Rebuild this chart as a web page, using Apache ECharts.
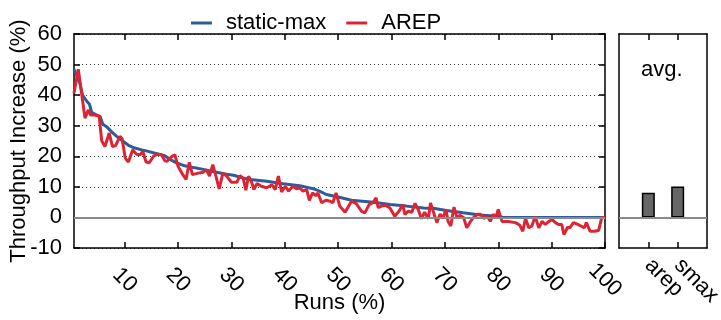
<!DOCTYPE html>
<html><head><meta charset="utf-8">
<script src="https://cdn.jsdelivr.net/npm/echarts@6/dist/echarts.min.js"></script>
<style>html,body{margin:0;padding:0;background:#fff}#c{width:721px;height:320px}</style>
</head><body><div id="c"></div>
<script>
// static-max curve: [runs %, throughput increase %]
const staticMaxRuns = [0.5,1.6,2.1,2.9,3.4,3.8,4.75,5.4,5.9,6.6,7.6,8.5,9.7,10.7,11.9,13.2,14.4,15.7,16.6,17.5,18.5,19.7,21,22.9,24.5,26,29.1,30.4,32.2,33.5,36.6,39.7,42.8,45.3,46.5,47.8,50,52.5,56.6,59.7,62.8,66,68.1,70.3,73.4,76.6,79.7,81,100];
const staticMaxVals = [48.5,43.9,40,38,37,34.4,33.5,33,30.5,29.7,27.9,26.5,24.9,23.6,22.7,22.1,21.6,21,20.6,20.2,19,17.8,17,16.3,15.8,15.2,14.1,13.8,12.9,12.4,11.8,11,10.4,9.4,8.6,7.5,6.7,5.6,5,4.2,3.7,3.1,2.9,2.3,1.5,0.8,0.4,0,0];
// AREP curve
const arepRuns = [0.5,1.3,2.56,3.2,3.6,4.4,5.2,5.7,6.3,7.1,7.7,8.3,9.1,9.5,10.1,10.7,11.5,12.2,12.9,13.4,14,14.6,15.4,16.1,16.9,17.5,17.9,18.8,19.4,20,20.7,21.5,22.1,22.7,23.8,24.7,25.3,25.9,26.5,27.1,27.7,28.4,29.1,30,31,31.6,32.2,32.7,33.2,33.8,34.2,34.8,35.6,36.6,37.6,38.2,38.8,39.4,40.1,40.7,41.5,42.2,42.8,43.4,44.1,44.6,45.2,45.8,46.2,46.9,47.7,48.5,49,49.6,50.3,51.3,52.5,53.4,54.4,55,55.8,56.6,57.1,57.5,58.1,58.9,59.7,60.6,61.4,62.1,62.5,63.1,63.8,64.4,65,65.6,66.2,66.9,67.3,68.5,69.1,69.6,70.2,70.6,71.1,71.7,72.3,72.8,73.5,74.1,74.8,75.4,76.1,76.7,77.3,78,78.5,79.1,79.5,80,80.7,81.9,83.2,84,84.6,85.1,85.7,86.3,86.9,87.6,88.2,88.8,89.5,90.1,90.7,91.3,91.9,92.3,93,93.4,94.1,94.9,95.5,96.1,96.5,97.2,98,98.8,99.4,100];
const arepVals = [40.6,48.5,32.5,35.2,33.5,33.5,33.2,25,23.2,27.6,23.2,23.5,26.5,25.8,19.4,18.1,22.1,20.7,20.5,21.6,18.1,17.9,20,20.7,20.5,18.6,18.3,19.9,20.5,16.7,14.5,12.4,18,14,14.5,14.8,15.6,13.5,17.3,13.5,9.3,14.5,13.5,11.5,11.5,13.7,12.8,8.9,13.5,11.5,9.1,11.1,10.2,9.7,10.7,9.1,13.5,8.3,10.2,8.6,10.2,9.4,9.7,8.6,9.1,5.6,8,7.1,8,4.8,5.6,5.3,4.8,8,3.7,1.7,5.3,4.5,2,1.5,4.2,5,6.4,3.2,3.7,4,3.1,0.4,2,4.2,1,2,1.7,4.6,2.6,-0.4,1.7,-0.4,4.7,-1.7,1.1,-0.3,2.6,-1.3,-2.8,3.4,-0.3,0.7,0,-3.4,-1.3,0,1,1,-0.3,0.3,-1.3,1.1,-0.3,2.6,-1.3,-1.3,-1.7,-2.5,-4.5,-0.3,-3.4,-2.8,0.3,-3.4,-1.3,-2.3,-1.3,-0.7,-1.7,-2.3,-2.3,-5.6,-3.2,-3.4,-1.7,-2.3,-2.8,-3.4,-1.7,-4.5,-4.5,-4.3,0,0];
const xTicks = [10,20,30,40,50,60,70,80,90,100];
const yTicks = [-10,0,10,20,30,40,50,60];
const avgLabels = ['arep','smax'];
const avgValues = [8.1,10.1];

const FONT = 'Liberation Sans';
const FS = 22;
const BLUE = '#2c5d98', RED = '#dc2434';
const pairs = (xs, ys) => xs.map((x, i) => [x, ys[i]]);
// right panel: empty slots at both edges so the two bars sit at 1/3 and 2/3
const avgCats = [''].concat(avgLabels, ['']);
const avgData = [null].concat(avgValues, [null]);

const chart = echarts.init(document.getElementById('c'), null, {renderer: 'canvas'});
const tickStyle = {show: true, inside: true, length: 6, lineStyle: {color: '#000', width: 1.5}};
const axisLine = {show: true, onZero: false, lineStyle: {color: '#000', width: 1.5}};

chart.setOption({
  animation: false,
  textStyle: {fontFamily: FONT},
  grid: [
    {left: 74, right: 116, top: 34, bottom: 72, containLabel: false, outerBoundsMode: 'none'},
    {left: 619, right: 14, top: 34, bottom: 72, containLabel: false, outerBoundsMode: 'none'}
  ],
  legend: {
    data: ['static-max', 'AREP'],
    left: 186, top: 7, icon: 'rect', itemWidth: 21, itemHeight: 3, itemGap: 20,
    textStyle: {fontSize: FS, color: '#000', fontFamily: FONT, padding: [0, 0, 0, 9]}
  },
  graphic: [{
    type: 'text', left: 641, top: 59,
    style: {text: 'avg.', fontSize: FS, fontFamily: FONT, fill: '#000'}
  }],
  xAxis: [
    {gridIndex: 0, type: 'value', min: 0.5, max: 100, position: 'bottom',
     axisLine, splitLine: {show: false},
     axisTick: Object.assign({customValues: xTicks}, tickStyle),
     axisLabel: {customValues: xTicks, rotate: -45, align: 'center', verticalAlign: 'middle', margin: 32,
       fontSize: FS, color: '#000', fontFamily: FONT, hideOverlap: false},
     name: 'Runs (%)', nameLocation: 'middle', nameGap: 44, nameMoveOverlap: false,
     nameTextStyle: {fontSize: FS, color: '#000', fontFamily: FONT, verticalAlign: 'top'}},
    {gridIndex: 0, type: 'value', min: 0.5, max: 100, position: 'top',
     axisLine, splitLine: {show: false},
     axisTick: Object.assign({customValues: xTicks}, tickStyle),
     axisLabel: {show: false}},
    {gridIndex: 1, type: 'category', data: avgCats, boundaryGap: false, position: 'bottom',
     axisLine, splitLine: {show: false},
     axisTick: Object.assign({interval: (i) => i === 1 || i === 2}, tickStyle),
     axisLabel: {interval: 0, rotate: -45, align: 'left', verticalAlign: 'middle', margin: 14,
       hideOverlap: false, fontSize: FS, color: '#000', fontFamily: FONT}},
    {gridIndex: 1, type: 'category', data: avgCats, boundaryGap: false, position: 'top',
     axisLine, splitLine: {show: false},
     axisTick: Object.assign({interval: (i) => i === 1 || i === 2}, tickStyle),
     axisLabel: {show: false}}
  ],
  yAxis: [
    {gridIndex: 0, type: 'value', min: -10, max: 60, interval: 10, position: 'left',
     axisLine, axisTick: tickStyle,
     axisLabel: {fontSize: FS, color: '#000', fontFamily: FONT, margin: 12},
     splitLine: {show: true, lineStyle: {type: [1, 3], color: '#333', width: 1}},
     name: 'Throughput Increase (%)', nameLocation: 'middle', nameGap: 44, nameRotate: 90,
     nameMoveOverlap: false,
     nameTextStyle: {fontSize: FS, color: '#000', fontFamily: FONT}},
    {gridIndex: 0, type: 'value', min: -10, max: 60, interval: 10, position: 'right',
     axisLine, axisTick: tickStyle, axisLabel: {show: false}, splitLine: {show: false}},
    {gridIndex: 1, type: 'value', min: -10, max: 60, interval: 10, position: 'left',
     axisLine, axisTick: {show: false}, axisLabel: {show: false}, splitLine: {show: false}},
    {gridIndex: 1, type: 'value', min: -10, max: 60, interval: 10, position: 'right',
     axisLine, axisTick: {show: false}, axisLabel: {show: false}, splitLine: {show: false}}
  ],
  series: [
    {type: 'line', name: 'zero0', xAxisIndex: 0, yAxisIndex: 0, data: [], z: 1, silent: true,
     markLine: {silent: true, symbol: 'none', label: {show: false},
       lineStyle: {color: '#8a8a8a', width: 2, type: 'solid'}, data: [{yAxis: 0}]}},
    {type: 'line', name: 'zero1', xAxisIndex: 2, yAxisIndex: 2, data: [], z: 1, silent: true,
     markLine: {silent: true, symbol: 'none', label: {show: false},
       lineStyle: {color: '#8a8a8a', width: 2, type: 'solid'}, data: [{yAxis: 0}]}},
    {type: 'line', name: 'static-max', xAxisIndex: 0, yAxisIndex: 0, z: 3,
     data: pairs(staticMaxRuns, staticMaxVals), showSymbol: false, symbol: 'none',
     lineStyle: {color: BLUE, width: 3}, itemStyle: {color: BLUE}},
    {type: 'line', name: 'AREP', xAxisIndex: 0, yAxisIndex: 0, z: 4,
     data: pairs(arepRuns, arepVals), showSymbol: false, symbol: 'none',
     lineStyle: {color: RED, width: 3}, itemStyle: {color: RED}},
    {type: 'bar', name: 'avg', xAxisIndex: 2, yAxisIndex: 2, z: 3, barWidth: 13,
     data: avgData,
     itemStyle: {color: '#666', borderColor: '#000', borderWidth: 1.5}}
  ]
});
</script></body></html>
